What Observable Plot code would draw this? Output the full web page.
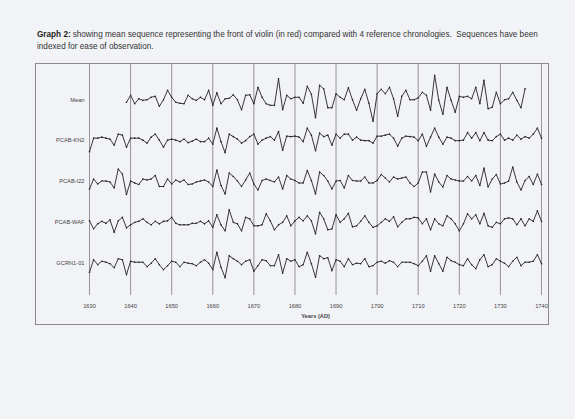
<!DOCTYPE html>
<html>
<head>
<meta charset="utf-8">
<script src="https://cdn.jsdelivr.net/npm/d3@7"></script>
<script src="https://cdn.jsdelivr.net/npm/@observablehq/plot@0.6"></script>
<style>
  html, body { margin: 0; padding: 0; background: #f2f3f6; }
  body { width: 575px; height: 419px; position: relative; overflow: hidden; font-family: "Liberation Sans", Arial, sans-serif; }
  #title { position: absolute; left: 37px; top: 29px; font-size: 8.2px; line-height: 12px; color: #333; white-space: nowrap; }
  #title b { color: #222; margin-right: 2px; }
  #box { position: absolute; left: 35px; top: 63px; width: 514px; height: 262px; border: 1px solid #8a8a8a; box-sizing: border-box; }
  #chart { position: absolute; left: 0; top: 50px; }
</style>
</head>
<body>
<div id="title"><div><b>Graph 2:</b><span>showing mean sequence representing the front of violin (in red) compared with 4 reference chronologies.&nbsp; Sequences have been</span></div><div>indexed for ease of observation.</div></div>
<div id="box"></div>
<div id="chart"></div>
<script>
// Series names (top to bottom)
const seriesNames = ["Mean", "PCAB-KN2", "PCAB-I22", "PCAB-WAF", "GCRN1-01"];
// First year of each series
const startYears = [1639, 1630, 1630, 1630, 1630];
// Decade tick labels
const decadeTicks = [1630, 1640, 1650, 1660, 1670, 1680, 1690, 1700, 1710, 1720, 1730, 1740];

// Indexed values
const meanValues = [95,109,92,102,99,100,105,107,87,100,119,105,95,93,92,109,102,99,105,100,
  119,89,114,92,102,103,110,100,80,109,110,92,125,105,92,89,89,142,80,109,102,105,105,93,127,
  111,64,129,122,84,84,112,105,100,124,100,79,102,121,93,57,112,121,112,125,
  102,67,107,119,100,100,104,115,109,79,149,99,71,125,99,75,107,105,107,102,
  125,92,139,82,85,115,92,100,102,115,99,84,122];
const kn2Values = [78,105,105,107,105,103,91,113,111,87,
  105,105,105,101,95,107,113,101,87,101,
  103,101,98,103,96,99,103,98,98,105,
  93,125,98,76,113,108,103,95,100,108,
  113,93,101,105,108,101,118,81,109,108,
  109,107,98,125,111,80,115,108,111,91,
  113,105,113,113,101,107,101,100,100,95,
  109,109,111,113,105,89,105,109,108,107,
  100,113,89,107,125,107,93,107,105,100,
  100,101,116,105,116,100,116,101,100,108,
  113,101,105,101,111,103,108,105,113,125,105];
const i22Values = [85,105,95,101,101,99,87,125,115,74,
  101,97,94,105,103,105,112,90,90,105,
  95,103,99,103,94,95,99,101,103,99,
  90,123,92,75,117,110,101,90,103,117,
  95,83,102,105,102,99,109,85,112,105,
  102,97,97,122,102,75,119,112,101,85,
  101,102,87,112,102,101,101,109,97,97,
  102,114,107,99,109,105,107,109,97,90,
  97,119,119,79,115,99,89,112,105,103,
  101,101,110,101,112,92,127,89,105,114,
  95,97,101,129,99,83,102,110,94,115,94];
const wafValues = [103,87,97,102,98,105,80,103,110,89,
  95,100,102,107,100,95,102,97,102,103,
  110,98,95,95,95,98,98,102,97,103,
  90,115,95,83,125,100,97,83,110,107,
  93,93,95,117,103,85,95,100,113,93,
  103,110,103,113,103,77,120,107,85,87,
  115,100,107,118,91,93,102,113,100,90,
  93,100,107,102,111,91,100,107,107,110,
  109,97,107,85,107,97,93,113,107,97,
  83,97,117,107,115,97,118,93,90,100,
  97,107,109,107,95,107,93,107,102,123,102];
const gcrnValues = [82,107,97,104,102,99,91,109,107,77,
  104,102,102,102,93,100,109,97,87,95,
  104,102,93,102,100,99,95,102,107,100,
  87,122,92,71,115,109,104,97,104,107,
  84,95,107,105,95,95,117,80,109,104,
  107,93,97,122,99,72,115,109,111,85,
  107,104,93,109,97,100,99,109,93,95,
  102,104,100,105,102,93,102,102,102,99,
  95,104,115,84,115,99,84,112,105,102,
  97,95,109,97,89,107,117,93,97,109,
  104,100,93,104,112,95,102,102,104,117,99];

const allValues = [meanValues, kn2Values, i22Values, wafValues, gcrnValues];

// Stacking: each series is drawn on a shared y scale, shifted by a band step
const bandStep = 81.7;
const offsetOf = (i) => (seriesNames.length - 1 - i) * bandStep;

const rows = allValues.flatMap((vals, i) =>
  vals.map((v, k) => ({series: seriesNames[i], idx: i, year: startYears[i] + k, value: v, y: v + offsetOf(i)}))
);

const baselineTicks = seriesNames.map((s, i) => 100 + offsetOf(i));
const nameAt = new Map(seriesNames.map((s, i) => [100 + offsetOf(i), s]));

const chart = Plot.plot({
  width: 575,
  height: 280,
  marginLeft: 89,
  marginRight: 34,
  marginTop: 14,
  marginBottom: 35,
  style: {background: "transparent", fontFamily: "'Liberation Sans', Arial, sans-serif", fontSize: "5.7px", color: "#444"},
  x: {
    domain: [1630, 1740],
    ticks: decadeTicks,
    tickFormat: "d",
    tickSize: 0,
    tickPadding: 8,
    label: "Years (AD)",
    labelAnchor: "center",
    labelArrow: "none",
    labelOffset: 22
  },
  y: {
    domain: [35.4, 497.4],
    ticks: baselineTicks,
    tickFormat: (d) => nameAt.get(d),
    tickSize: 0,
    tickPadding: 5,
    label: null
  },
  marks: [
    Plot.ruleX(decadeTicks, {stroke: "#7c7c7c", strokeWidth: 0.8}),
    Plot.line(rows, {x: "year", y: "y", z: "series", stroke: "#222", strokeWidth: 0.9}),
    Plot.dot(rows, {x: "year", y: "y", r: 0.8, fill: "#222", stroke: null})
  ]
});
chart.querySelectorAll("[aria-label='x-axis label'] text").forEach(t => { t.style.fontWeight = "bold"; t.style.fill = "#444"; });
document.getElementById("chart").appendChild(chart);
</script>
</body>
</html>
